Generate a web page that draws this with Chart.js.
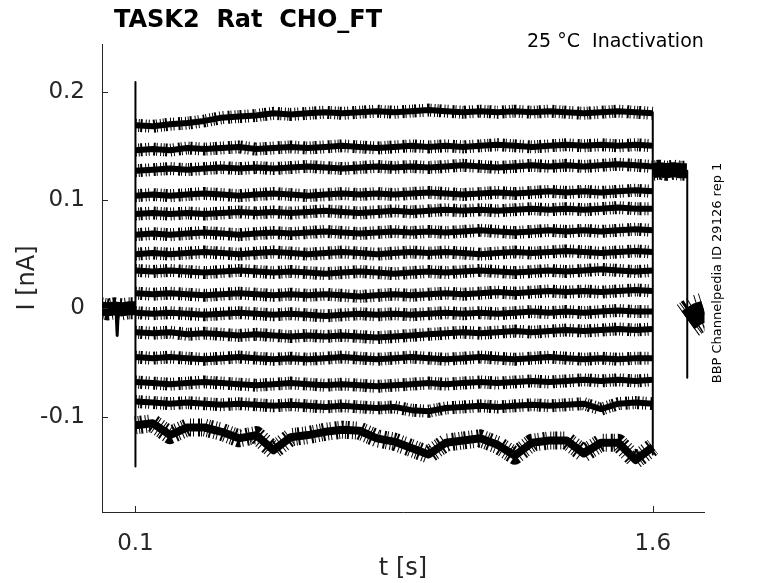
<!DOCTYPE html>
<html>
<head>
<meta charset="utf-8">
<script src="https://cdn.jsdelivr.net/npm/chart.js@4/dist/chart.umd.min.js"></script>
<style>
  body { margin: 0; background: #fff; }
  canvas { display: block; }
</style>
</head>
<body>
<canvas id="myChart" width="778" height="583"></canvas>
<script>
// time axis of the test pulse (s)
var pulseT = [0.1, 0.15, 0.2, 0.25, 0.3, 0.35, 0.4, 0.45, 0.5, 0.55, 0.6, 0.65, 0.7, 0.75, 0.8, 0.85,
	0.9, 0.95, 1.0, 1.05, 1.1, 1.15, 1.2, 1.25, 1.3, 1.35, 1.4, 1.45, 1.5, 1.55, 1.6];

// current during the pulse, one sweep per array (nA)
var sweep1 = [0.169, 0.168, 0.170, 0.171, 0.173, 0.176, 0.177, 0.178, 0.180, 0.179, 0.180, 0.181, 0.180, 0.181, 0.182, 0.181,
	0.182, 0.183, 0.182, 0.181, 0.182, 0.181, 0.182, 0.181, 0.182, 0.181, 0.180, 0.181, 0.182, 0.181, 0.180];
var sweep2 = [0.146, 0.147, 0.146, 0.148, 0.147, 0.148, 0.149, 0.147, 0.148, 0.149, 0.148, 0.149, 0.150, 0.149, 0.148, 0.149,
	0.150, 0.149, 0.150, 0.149, 0.150, 0.151, 0.150, 0.149, 0.150, 0.151, 0.150, 0.151, 0.150, 0.151, 0.150];
var sweep3 = [0.127, 0.128, 0.129, 0.128, 0.129, 0.130, 0.129, 0.130, 0.129, 0.130, 0.131, 0.130, 0.129, 0.130, 0.131, 0.130,
	0.131, 0.130, 0.131, 0.132, 0.131, 0.130, 0.131, 0.132, 0.131, 0.132, 0.131, 0.132, 0.133, 0.132, 0.131];
var sweep4 = [0.104, 0.105, 0.104, 0.105, 0.106, 0.105, 0.104, 0.105, 0.106, 0.105, 0.104, 0.105, 0.106, 0.105, 0.106, 0.105,
	0.106, 0.107, 0.106, 0.105, 0.106, 0.107, 0.106, 0.107, 0.108, 0.107, 0.108, 0.107, 0.108, 0.109, 0.108];
var sweep5 = [0.087, 0.088, 0.087, 0.088, 0.087, 0.088, 0.089, 0.088, 0.089, 0.088, 0.089, 0.090, 0.089, 0.088, 0.089, 0.090,
	0.089, 0.090, 0.091, 0.090, 0.091, 0.090, 0.091, 0.092, 0.091, 0.092, 0.091, 0.092, 0.093, 0.092, 0.092];
var sweep6 = [0.068, 0.069, 0.068, 0.069, 0.070, 0.069, 0.068, 0.069, 0.070, 0.069, 0.070, 0.071, 0.070, 0.069, 0.070, 0.071,
	0.070, 0.071, 0.070, 0.071, 0.072, 0.071, 0.070, 0.071, 0.072, 0.071, 0.072, 0.071, 0.072, 0.073, 0.072];
var sweep7 = [0.050, 0.051, 0.050, 0.051, 0.052, 0.051, 0.050, 0.051, 0.052, 0.051, 0.050, 0.051, 0.052, 0.051, 0.050, 0.051,
	0.052, 0.051, 0.052, 0.051, 0.050, 0.051, 0.052, 0.051, 0.052, 0.053, 0.052, 0.051, 0.052, 0.053, 0.052];
var sweep8 = [0.035, 0.034, 0.035, 0.034, 0.033, 0.034, 0.035, 0.034, 0.033, 0.034, 0.033, 0.032, 0.033, 0.034, 0.033, 0.032,
	0.033, 0.034, 0.033, 0.034, 0.035, 0.034, 0.033, 0.034, 0.035, 0.034, 0.035, 0.036, 0.035, 0.034, 0.035];
var sweep9 = [0.014, 0.013, 0.014, 0.013, 0.012, 0.013, 0.014, 0.013, 0.012, 0.013, 0.012, 0.013, 0.012, 0.011, 0.012, 0.013,
	0.012, 0.013, 0.014, 0.013, 0.014, 0.015, 0.014, 0.015, 0.016, 0.015, 0.016, 0.015, 0.016, 0.017, 0.016];
var sweep10 = [-0.004, -0.005, -0.004, -0.005, -0.006, -0.005, -0.004, -0.005, -0.006, -0.005, -0.006, -0.007, -0.006, -0.005, -0.006, -0.005,
	-0.006, -0.005, -0.004, -0.005, -0.004, -0.005, -0.004, -0.003, -0.004, -0.003, -0.004, -0.003, -0.002, -0.003, -0.003];
var sweep11 = [-0.022, -0.023, -0.022, -0.024, -0.023, -0.024, -0.025, -0.024, -0.025, -0.026, -0.025, -0.026, -0.025, -0.026, -0.027, -0.026,
	-0.025, -0.024, -0.023, -0.022, -0.023, -0.022, -0.021, -0.022, -0.021, -0.020, -0.021, -0.020, -0.019, -0.020, -0.019];
var sweep12 = [-0.045, -0.046, -0.045, -0.046, -0.047, -0.046, -0.045, -0.046, -0.047, -0.046, -0.047, -0.046, -0.045, -0.046, -0.047, -0.046,
	-0.045, -0.046, -0.047, -0.046, -0.045, -0.046, -0.047, -0.046, -0.045, -0.046, -0.047, -0.046, -0.047, -0.046, -0.046];
var sweep13 = [-0.068, -0.069, -0.070, -0.069, -0.068, -0.069, -0.070, -0.071, -0.070, -0.069, -0.070, -0.071, -0.070, -0.071, -0.072, -0.071,
	-0.070, -0.069, -0.070, -0.069, -0.068, -0.069, -0.068, -0.067, -0.068, -0.067, -0.066, -0.067, -0.066, -0.067, -0.066];
var sweep14 = [-0.086, -0.087, -0.088, -0.087, -0.088, -0.089, -0.088, -0.089, -0.090, -0.089, -0.090, -0.091, -0.090, -0.091, -0.092, -0.091,
	-0.094, -0.095, -0.092, -0.091, -0.090, -0.091, -0.090, -0.089, -0.090, -0.089, -0.088, -0.093, -0.088, -0.087, -0.088];
var sweep15 = [-0.108, -0.106, -0.117, -0.110, -0.110, -0.114, -0.120, -0.117, -0.131, -0.119, -0.117, -0.114, -0.112, -0.113, -0.120, -0.123,
	-0.129, -0.135, -0.124, -0.122, -0.120, -0.126, -0.136, -0.124, -0.122, -0.122, -0.134, -0.124, -0.124, -0.140, -0.128];
var sweeps = [sweep1, sweep2, sweep3, sweep4, sweep5, sweep6, sweep7, sweep8, sweep9, sweep10, sweep11, sweep12, sweep13, sweep14, sweep15];

// holding level before the pulse (all sweeps overlap)
var preT = [0.0, 0.02, 0.04, 0.06, 0.08, 0.1];
var preI = [0.000, -0.001, 0.000, -0.001, 0.000, 0.000];
var dipT = [0.044, 0.047, 0.050];
var dipI = [-0.004, -0.025, -0.004];

// tail after the pulse
var postT = [1.6, 1.62, 1.64, 1.66, 1.68, 1.699];
var postI = [0.127, 0.128, 0.127, 0.128, 0.127, 0.127];
var tailT = [1.702, 1.715, 1.73, 1.75];
var tailI = [-0.011, -0.008, -0.005, -0.003];

// capacitive transients / step edges: [time, top, bottom]
var edges = [[0.1, 0.209, -0.146], [1.6, 0.181, -0.135], [1.7, 0.127, -0.064]];

var xTicks = [0.1, 1.6];
var xTickLabels = ["0.1", "1.6"];
var yTicks = [-0.1, 0, 0.1, 0.2];
var yTickLabels = ["-0.1", "0", "0.1", "0.2"];

function pts(ts, vs) {
	return ts.map(function (t, i) { return { x: t, y: vs[i] }; });
}

// irregular dash makes the thick halo read as recording noise
var noiseDash = [1, 2, 1, 1, 2, 3, 1, 2, 1, 4, 2, 1, 1, 3];

function trace(ts, vs, core, halo) {
	return [
		{ data: pts(ts, vs), borderColor: "#000", borderWidth: core, borderCapStyle: "butt", pointRadius: 0 },
		{ data: pts(ts, vs), borderColor: "#000", borderWidth: halo, borderDash: noiseDash, borderCapStyle: "butt", pointRadius: 0 },
	];
}

var datasets = [];
sweeps.forEach(function (s, i) {
	datasets = datasets.concat(trace(pulseT, s, i === 14 ? 8 : 6, i === 14 ? 18 : 13));
});
datasets = datasets.concat(trace(preT, preI, 14, 22));
datasets.push({ data: pts(dipT, dipI), borderColor: "#000", borderWidth: 3, pointRadius: 0 });
datasets = datasets.concat(trace(postT, postI, 15, 20));
datasets = datasets.concat(trace(tailT, tailI, 22, 38));
edges.forEach(function (e) {
	datasets.push({ data: [{ x: e[0], y: e[1] }, { x: e[0], y: e[2] }], borderColor: "#000", borderWidth: 2, pointRadius: 0 });
});

var FONT = "'DejaVu Sans', sans-serif";

var decor = {
	id: "decor",
	afterDraw: function (chart) {
		var ctx = chart.ctx;
		var xs = chart.scales.x;
		var ys = chart.scales.y;
		ctx.save();
		// inward ticks
		ctx.strokeStyle = "#262626";
		ctx.lineWidth = 1;
		xTicks.forEach(function (v) {
			var px = Math.round(xs.getPixelForValue(v)) + 0.5;
			ctx.beginPath();
			ctx.moveTo(px, ys.bottom);
			ctx.lineTo(px, ys.bottom - 6);
			ctx.stroke();
		});
		yTicks.forEach(function (v) {
			var py = Math.round(ys.getPixelForValue(v)) + 0.5;
			ctx.beginPath();
			ctx.moveTo(xs.left, py);
			ctx.lineTo(xs.left + 6, py);
			ctx.stroke();
		});
		// title and notes
		ctx.fillStyle = "#000";
		ctx.textBaseline = "alphabetic";
		ctx.textAlign = "left";
		ctx.font = "bold 24px " + FONT;
		ctx.fillText("TASK2  Rat  CHO_FT", 114, 27);
		ctx.font = "19px " + FONT;
		ctx.fillText("25 °C  Inactivation", 527, 47);
		// axis labels
		ctx.fillStyle = "#262626";
		ctx.textAlign = "center";
		ctx.textBaseline = "middle";
		ctx.font = "24px " + FONT;
		ctx.fillText("t [s]", 403, 569);
		ctx.save();
		ctx.translate(28, 278);
		ctx.rotate(-Math.PI / 2);
		ctx.fillText("I [nA]", 0, 0);
		ctx.restore();
		ctx.fillStyle = "#000";
		ctx.save();
		ctx.translate(717.5, 273);
		ctx.rotate(-Math.PI / 2);
		ctx.font = "13px " + FONT;
		ctx.fillText("BBP Channelpedia ID 29126 rep 1", 0, 0);
		ctx.restore();
		ctx.restore();
	},
};

var ctx = document.getElementById("myChart").getContext("2d");
var myChart = new Chart(ctx, {
	type: "line",
	data: { datasets: datasets },
	plugins: [decor],
	options: {
		responsive: false,
		animation: false,
		devicePixelRatio: 1,
		layout: { padding: { left: 0, right: 73.5, top: 44, bottom: 0 } },
		plugins: { legend: { display: false }, tooltip: { enabled: false }, title: { display: false } },
		elements: { line: { tension: 0, borderJoinStyle: "round" } },
		scales: {
			x: {
				type: "linear",
				min: 0.003,
				max: 1.75,
				afterFit: function (s) { s.height = 71; },
				afterBuildTicks: function (s) { s.ticks = xTicks.map(function (v) { return { value: v }; }); },
				grid: { display: false, drawTicks: false },
				border: { display: true, color: "#262626", width: 1 },
				ticks: {
					padding: 18,
					maxRotation: 0,
					autoSkip: false,
					color: "#262626",
					font: { family: FONT, size: 23 },
					callback: function (v, i) { return xTickLabels[i]; },
				},
			},
			y: {
				type: "linear",
				min: -0.188,
				max: 0.244,
				afterFit: function (s) { s.width = 102; },
				afterBuildTicks: function (s) { s.ticks = yTicks.map(function (v) { return { value: v }; }); },
				grid: { display: false, drawTicks: false },
				border: { display: true, color: "#262626", width: 1 },
				ticks: {
					padding: 17,
					autoSkip: false,
					color: "#262626",
					font: { family: FONT, size: 23 },
					callback: function (v, i) { return yTickLabels[i]; },
				},
			},
		},
	},
});
</script>
</body>
</html>
